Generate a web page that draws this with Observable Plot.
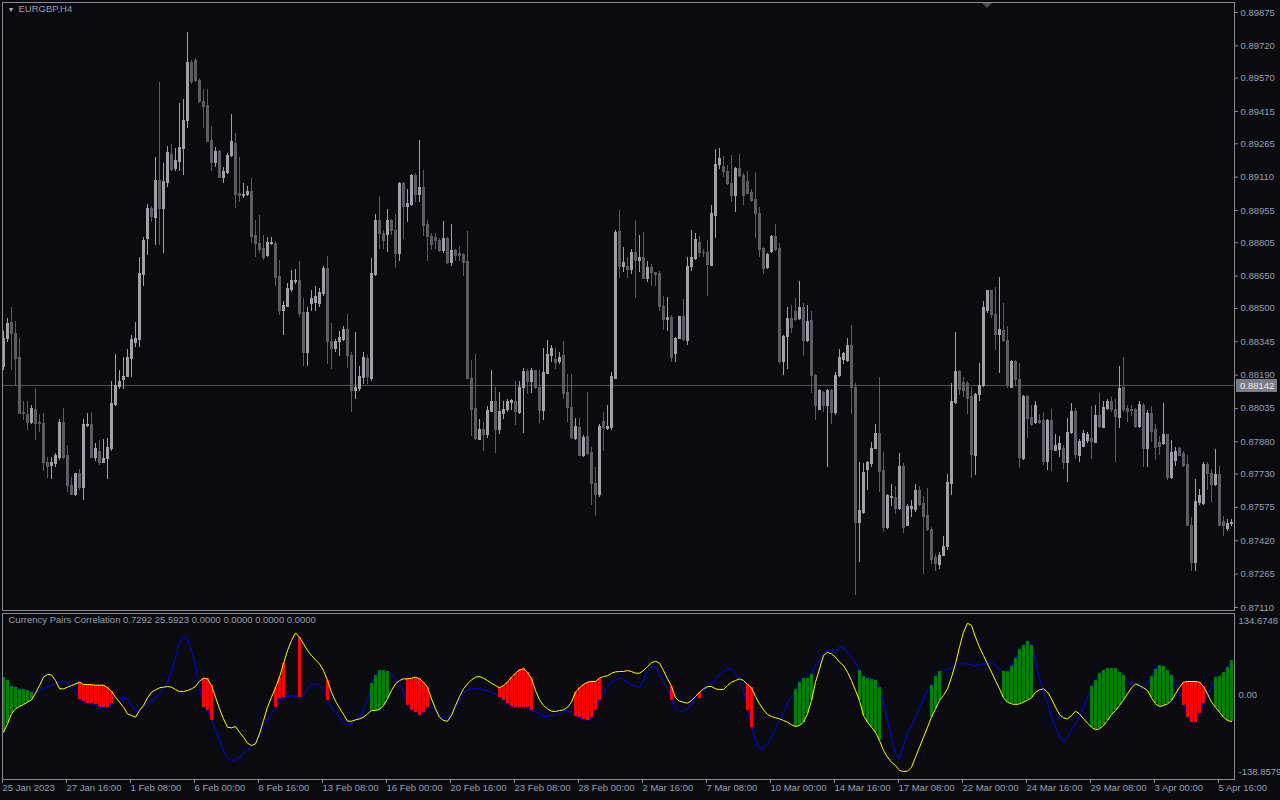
<!DOCTYPE html>
<html><head><meta charset="utf-8">
<script src="https://cdn.jsdelivr.net/npm/d3@7"></script>
<script src="https://cdn.jsdelivr.net/npm/@observablehq/plot@0.6"></script>
<style>
html,body{margin:0;padding:0;background:#0a0a0f;}
#wrap{position:relative;width:1280px;height:800px;overflow:hidden;background:#0a0a0f;font-family:"Liberation Sans",Arial,sans-serif;}
#price{position:absolute;left:0;top:0;}
#ind{position:absolute;left:0;top:610px;}
#shift{position:absolute;left:982px;top:3px;width:0;height:0;border-left:5px solid transparent;border-right:5px solid transparent;border-top:5px solid #4d4d58;}
</style></head><body>
<div id="wrap"><div id="price"></div><div id="ind"></div><div id="shift"></div></div>
<script>
// ---- DATA (prices in points, price × 100000) ----
const symbolTitle = "EURGBP,H4";
const indTitle = "Currency Pairs Correlation 0.7292 25.5923 0.0000 0.0000 0.0000 0.0000";
const hLine = 0.88142;
const priceTicks = [0.89875,0.89720,0.89570,0.89415,0.89265,0.89110,0.88955,0.88805,0.88650,0.88500,0.88345,0.88190,0.88035,0.87880,0.87730,0.87575,0.87420,0.87265,0.87110];
const timeLabels = ["25 Jan 2023","27 Jan 16:00","1 Feb 08:00","6 Feb 00:00","8 Feb 16:00","13 Feb 08:00","16 Feb 00:00","20 Feb 16:00","23 Feb 08:00","28 Feb 00:00","2 Mar 16:00","7 Mar 08:00","10 Mar 00:00","14 Mar 16:00","17 Mar 08:00","22 Mar 00:00","24 Mar 16:00","29 Mar 08:00","3 Apr 00:00","5 Apr 16:00"];
const timeTickBars = [0,16,32,48,64,80,96,112,128,144,160,176,192,208,224,240,256,272,288,304];
const indTicks = [134.6748, 0, -138.8579];
const indTickLabels = ["134.6748","0.00","-138.8579"];

const opens = [
88228,88358,88430,88383,88268,88015,88006,87969,88029,87966,
87964,87783,87767,87776,87807,87969,87812,87675,87631,87729,
87667,87953,87960,87807,87834,87783,87798,87848,88051,88134,
88165,88181,88264,88340,88351,88655,88823,88964,88922,89090,
88964,89081,89213,89148,89181,89239,89369,89638,89651,89557,
89461,89439,89280,89175,89226,89108,89130,89208,89266,89031,
89023,89027,89040,88835,88801,88774,88743,88799,88801,88644,
88488,88506,88584,88622,88626,88477,88293,88521,88524,88521,
88566,88683,88345,88309,88344,88354,88398,88280,88118,88125,
88177,88264,88174,88655,88906,88846,88843,88904,88861,88752,
89078,88973,88980,89114,89027,89058,88888,88834,88828,88814,
88765,88823,88711,88765,88752,88747,88714,88174,88033,87888,
87933,87910,88018,88063,87933,88009,88027,88061,88063,88015,
88132,88204,88156,88210,88132,88024,88195,88280,88259,88253,
88277,88109,88038,87892,87942,87816,87901,87828,87684,87631,
87973,87939,87942,88172,88855,88694,88693,88678,88756,88721,
88732,88638,88687,88665,88660,88506,88445,88454,88286,88358,
88458,88347,88693,88729,88806,88759,88759,88698,88928,89168,
89157,89136,89078,89023,89148,89117,89087,89036,89004,88940,
88774,88687,88761,88834,88778,88250,88365,88452,88485,88452,
88503,88349,88443,88186,88029,88109,88047,88114,88015,88186,
88259,88255,88326,88132,87503,87548,87747,87776,87846,87915,
87743,87478,87617,87620,87568,87761,87490,87568,87563,87653,
87593,87535,87472,87340,87306,87351,87391,87686,88060,88204,
88154,88150,88087,87816,88096,88138,88488,88579,88470,88376,
88394,88349,88132,88253,88168,87801,88090,87991,87969,87975,
87975,87785,87978,87839,87843,87848,87780,87920,88018,87816,
87855,87884,87892,87874,88002,87946,88033,88063,88029,87991,
88132,88033,88027,88027,87948,88047,87848,88011,87933,87874,
87870,87910,87711,87789,87846,87825,87770,87490,87318,87595,
87593,87770,87729,87680,87725,87508,87476,87499];

const highs = [
88394,88452,88506,88439,88358,88069,88069,88051,88130,88006,
88011,87807,87807,87825,87982,88033,87861,87716,87734,87752,
87982,88011,88018,87870,87888,87892,87897,88159,88286,88213,
88271,88307,88376,88434,88738,88828,88982,88973,89199,89551,
89172,89253,89262,89244,89452,89470,89783,89651,89660,89569,
89515,89519,89343,89248,89235,89154,89222,89401,89311,89199,
89081,89067,89103,88910,88931,88837,88828,88828,88810,88723,
88530,88615,88674,88683,88716,88548,88503,88584,88602,88593,
88693,88741,88430,88354,88394,88416,88470,88295,88389,88231,
88295,88280,88734,88937,89018,88864,88958,88915,88937,89085,
89085,89054,89121,89126,89280,89141,88910,88846,88846,88824,
88906,88828,88890,88774,88788,88756,88855,88259,88286,87982,
87969,88042,88213,88132,88109,88069,88078,88078,88159,88159,
88222,88217,88222,88213,88210,88313,88349,88326,88313,88295,
88344,88195,88192,87987,87987,87910,88109,87852,87761,87960,
88015,88051,88204,88864,88955,88781,88738,88774,88910,88837,
88852,88716,88702,88669,88671,88553,88552,88467,88367,88463,
88539,88738,88864,88846,88832,88774,88814,88976,89239,89244,
89208,89163,89211,89157,89213,89126,89136,89054,89132,88967,
88783,88756,88841,88888,88801,88376,88503,88512,88548,88626,
88521,88512,88485,88195,88123,88114,88123,88123,88204,88307,
88295,88358,88421,88150,87783,87780,87789,87879,87960,88181,
87830,87635,87680,87671,87825,87780,87590,87608,87680,87671,
87626,87662,87481,87355,87364,87440,87729,88150,88389,88213,
88181,88159,88132,88105,88246,88530,88584,88584,88597,88644,
88521,88416,88259,88259,88246,88096,88096,88051,88069,88006,
88015,87982,88029,87915,87906,87861,87987,88060,88033,87892,
87933,87924,88042,88051,88105,88069,88078,88087,88078,88228,
88271,88051,88051,88036,88065,88060,88024,88042,87960,87906,
88060,87915,87888,87852,87852,87834,87816,87526,87707,87657,
87783,87783,87752,87843,87765,87535,87517,87521];

const lows = [
88213,88340,88213,88141,88011,87978,87933,87960,87888,87924,
87743,87711,87707,87761,87794,87798,87644,87631,87626,87653,
87608,87946,87801,87789,87770,87780,87707,87834,88042,88123,
88123,88177,88177,88318,88318,88602,88747,88900,88792,88792,
88756,89063,89136,89136,89136,89117,89334,89542,89548,89452,
89334,89271,89136,89154,89103,89081,89121,89199,88964,88994,
89009,89018,88801,88738,88756,88723,88738,88792,88602,88467,
88372,88503,88575,88611,88458,88231,88231,88485,88485,88503,
88557,88240,88217,88295,88277,88344,88222,88018,88078,88114,
88145,88145,88159,88647,88774,88774,88759,88837,88687,88720,
88819,88897,88973,88991,88994,88832,88716,88770,88774,88759,
88756,88705,88693,88720,88716,88647,88168,87906,87888,87884,
87837,87897,88015,87825,87915,87982,88015,88024,87957,88006,
87920,88101,88105,88123,87966,87978,88192,88250,88217,88240,
88078,87969,87892,87888,87812,87807,87816,87584,87535,87620,
87834,87933,87933,88168,88638,88665,88638,88656,88548,88665,
88633,88620,88602,88602,88485,88398,88394,88250,88250,88354,
88344,88326,88671,88723,88738,88738,88553,88693,88824,89145,
89108,89072,88991,88946,89108,88976,89027,88991,88824,88738,
88656,88683,88756,88765,88240,88186,88217,88385,88439,88445,
88277,88340,88105,87978,88024,88015,87761,87960,88000,88177,
88240,88250,88006,87168,87318,87544,87653,87761,87843,87644,
87458,87472,87581,87544,87563,87454,87487,87526,87553,87581,
87264,87463,87309,87277,87288,87346,87373,87631,88054,88096,
88087,88006,87711,87725,88069,88132,88476,88452,88304,88199,
88340,88127,88127,88136,87758,87794,87897,87951,87960,87960,
87770,87747,87743,87834,87807,87752,87693,87915,87798,87783,
87852,87874,87798,87870,87942,87942,88024,88018,87783,87942,
88015,87969,87996,87942,87942,87761,87761,87879,87794,87816,
87861,87698,87707,87765,87812,87761,87487,87277,87277,87584,
87584,87653,87599,87671,87487,87440,87463,87487];

const closes = [
88358,88427,88380,88264,88011,88009,87969,88033,87964,87962,
87780,87765,87780,87812,87969,87807,87675,87635,87729,87667,
87957,87960,87807,87848,87783,87798,87852,88054,88141,88156,
88183,88271,88351,88358,88658,88814,88964,88926,89090,88962,
89085,89220,89145,89184,89244,89369,89638,89551,89557,89457,
89434,89275,89175,89226,89108,89136,89208,89271,89027,89023,
89027,89043,88832,88801,88770,88734,88806,88806,88642,88488,
88512,88590,88626,88629,88474,88293,88477,88542,88553,88571,
88683,88344,88309,88344,88362,88398,88280,88118,88128,88183,
88268,88181,88658,88906,88846,88814,88904,88861,88752,89078,
88973,88987,89114,89027,89058,88882,88834,88796,88814,88765,
88823,88709,88768,88743,88745,88711,88174,88029,87892,87933,
87910,88024,88063,87933,88018,88027,88063,88069,88018,88132,
88204,88159,88210,88128,88024,88199,88282,88309,88246,88271,
88100,88036,87897,87948,87816,87897,87825,87684,87635,87951,
87942,87951,88181,88852,88693,88709,88678,88756,88720,88732,
88638,88687,88665,88655,88506,88445,88454,88271,88358,88458,
88353,88693,88732,88819,88756,88756,88702,88937,89168,89193,
89136,89078,89023,89148,89114,89023,89031,89000,88940,88770,
88683,88747,88834,88770,88250,88365,88452,88407,88448,88503,
88349,88439,88186,88047,88114,88047,88114,88015,88186,88271,
88286,88326,88132,87503,87557,87734,87780,87848,87915,87738,
87478,87626,87622,87568,87761,87478,87575,87575,87653,87588,
87530,87469,87333,87313,87351,87391,87689,88063,88204,88123,
88114,88078,87819,88096,88138,88503,88579,88470,88376,88398,
88349,88138,88253,88168,87807,88090,87987,87960,88047,87966,
87785,87978,87843,87861,87870,87780,87920,88018,87819,87879,
87915,87910,87879,88002,87951,88036,88063,88029,87993,88127,
88027,88020,88024,87951,88051,87848,88011,87924,87852,87855,
87910,87711,87828,87834,87816,87767,87490,87318,87599,87626,
87770,87729,87680,87725,87490,87490,87499,87503];

// Indicator lines (one value per bar)
const yellowLine = [
-66.4,-51.4,-33.4,-24.4,-20.2,-16.6,-12.4,-8.2,3.8,17.6,
32.6,37.4,36.8,26.6,11.6,11.6,14.6,17.6,20.6,23.6,
19.4,19.4,18.8,18.2,18.2,18.2,13.4,7.4,-3.4,-12.4,
-21.4,-33.4,-36.4,-39.4,-27.4,-18.4,-4.6,5.6,9.8,13.4,
14.6,15.8,14.6,10.4,6.8,6.8,8.6,11.6,15.8,25.4,
30.8,29.6,17.6,-3.4,-24.4,-42.4,-57.4,-58.6,-56.2,-66.4,
-75.4,-86.2,-90.4,-87.4,-69.4,-45.4,-21.4,-3.4,13.4,32.6,
56.6,80.6,98.6,112.4,104.6,92.6,80.6,71.6,63.8,56.6,
44.6,26.6,5.6,-10.6,-22.6,-34.6,-46.6,-46.6,-44.2,-42.4,
-39.4,-33.4,-27.4,-27.4,-25,-18.4,-6.4,8.6,20.6,26.6,
29.6,29.6,30.8,32.6,29.6,23.6,14.6,-6.4,-24.4,-39.4,
-45.4,-46.6,-36.4,-18.4,-2.2,11.6,20.6,27.8,32.6,33.8,
30.8,26.6,21.8,17.6,13.4,17.6,23.6,32.6,39.8,45.8,
47.6,41.6,29.6,8.6,-8.2,-18.4,-24.4,-28.6,-29.2,-27.4,
-26.2,-21.4,-12.4,5.6,13.4,19.4,23.6,24.8,24.8,30.8,
33.8,35,39.8,42.2,42.8,42.8,44.6,42.8,39.8,39.8,
44.6,51.8,58.4,61.4,57.8,44.6,29.6,15.8,-4.6,-10.6,
-12.4,-14.2,-9.4,-2.2,5.6,11.6,15.8,15.8,11.6,10.4,
10.4,17.6,23.6,26.6,29.6,26.6,19.4,13.4,-2.2,-15.4,
-26.2,-34.6,-38.2,-40.6,-42.4,-45.4,-48.4,-53.2,-56.2,-54.4,
-48.4,-33.4,-9.4,23.6,47.6,71.6,77.6,74.6,68.6,59.6,
53.6,41.6,26.6,8.6,-9.4,-36.4,-48.4,-57.4,-66.4,-81.4,
-99.4,-111.4,-120.4,-126.4,-135.4,-137.2,-136.6,-129.4,-111.4,-93.4,
-75.4,-57.4,-39.4,-24.4,-9.4,-0.4,11.6,32.6,56.6,86.6,
113.6,129.8,125.6,104.6,86.6,71.6,56.6,41.6,26.6,11.6,
-4.6,-12.4,-15.4,-16.6,-15.4,-12.4,-8.2,-4.6,5.6,9.8,
11.6,5.6,-6.4,-21.4,-34.6,-40.6,-42.4,-36.4,-28.6,-33.4,
-42.4,-50.2,-57.4,-62.2,-60.4,-54.4,-45.4,-34.6,-27.4,-18.4,
-8.2,2.6,13.4,20.6,17.6,13.4,8.6,-4.6,-15.4,-20.2,
-18.4,-15.4,-9.4,2.6,14.6,23.6,24.8,24.8,24.8,23.6,
15.8,2.6,-12.4,-21.4,-30.4,-39.4,-45.4,-47.2];

const blueLine = [
32.6,26.6,15.8,13.4,11,9.8,8.6,5.6,5.6,8.6,
11.6,14.6,17.6,20.6,23.6,24.8,21.8,15.8,5.6,-8.2,
-10.6,-14.2,-15.4,-17.2,-20.2,-21.4,-22.6,-15.4,-3.4,-4.6,
-6.4,-6.4,-18.4,-27.4,-26.2,-21.4,-15.4,-10.6,-4.6,2.6,
11.6,23.6,41.6,68.6,95.6,105.8,101.6,80.6,53.6,14.6,
-21.4,-27.4,-45.4,-63.4,-81.4,-99.4,-114.4,-117.4,-116.2,-111.4,
-105.4,-98.2,-90.4,-84.4,-72.4,-54.4,-42.4,-33.4,-22.6,-6.4,
-4.6,-2.2,-1,-1,-4.6,-0.4,11.6,19.4,20.6,17.6,
8.6,-9.4,-21.4,-30.4,-39.4,-48.4,-52.6,-51.4,-44.2,-39.4,
-27.4,-9.4,20.6,35.6,44.6,44.6,42.8,38.6,29.6,20.6,
5.6,-18.4,-27.4,-30.4,-36.4,-30.4,-21.4,-20.2,-27.4,-36.4,
-40.6,-39.4,-33.4,-24.4,-9.4,3.8,9.8,11.6,11.6,11.6,
9.8,7.4,5.6,2.6,-3.4,-9.4,-15.4,-20.2,-21.4,-21.4,
-21.4,-22.6,-27.4,-30.4,-32.2,-38.2,-38.2,-36.4,-35.2,-32.2,
-27.4,-27.4,-30.4,-38.2,-40.6,-43.6,-45.4,-40.6,-27.4,-9.4,
3.8,15.8,23.6,27.8,31.4,27.8,23.6,19.4,15.8,14.6,
26.6,44.6,51.8,50.6,38.6,23.6,11.6,-9.4,-22.6,-28.6,
-28.6,-24.4,-15.4,-3.4,-5.2,8.6,13.4,20.6,29.6,37.4,
42.8,47,47.6,39.8,26.6,8.6,-27.4,-57.4,-81.4,-96.4,
-93.4,-87.4,-75.4,-60.4,-45.4,-30.4,-15.4,-3.4,9.8,23.6,
29.6,29.6,37.4,53.6,62.6,74.6,81.8,80.6,77.6,87.8,
86.6,75.8,68.6,59.6,44.6,33.8,30.8,28.4,26.6,14.6,
-12.4,-45.4,-78.4,-105.4,-114.4,-90.4,-69.4,-54.4,-39.4,-24.4,
-6.4,8.6,17.6,33.8,42.8,44.6,45.8,49.4,53.6,56.6,
56.6,56.6,55.4,51.8,55.4,56.6,56.6,59.6,53.6,44.6,
42.8,43.4,51.8,65.6,81.8,89.6,97.4,89.6,62.6,29.6,
5.6,-15.4,-39.4,-57.4,-72.4,-84.4,-75.4,-62.2,-51.4,-39.4,
-21.4,-4.6,15.8,26.6,38.6,44.6,47.6,48.8,47.6,41.6,
35.6,26.6,21.8,19.4,14.6,11.6,23.6,33.8,45.8,53.6,
51.8,44.6,35.6,20.6,5.6,-18.4,-39.4,-48.4,-48.4,-33.4,
-15.4,2.6,14.6,32.6,33.8,41.6,50.6,62.6];

// Bars where the histogram between the two lines is drawn
const histBars = [0,1,2,3,4,5,6,7, 19,20,21,22,23,24,25,26,27, 50,51,52, 68,69,70, 74, 81,
 92,93,94,95,96, 101,102,103,104,105,106, 124,125,126,127,128,129,130,131,132,
 143,144,145,146,147,148,149, 167, 174, 186,187, 198,199,200,201,202,
 214,215,216,217,218,219, 232,233,234, 250,251,252,253,254,255,256,257,
 272,273,274,275,276,277,278,279,280, 287,288,289,290,291,292,
 295,296,297,298,299,300, 303,304,305,306,307];

// ---- STYLE ----
const TXT = "#96a0b4", FRAME = "#8a8a96";
const BULL = "#a0a0ab", BEAR = "#5c5c64";
const FONT = "font-family:'Liberation Sans',Arial,sans-serif;font-size:9.5px;";
const X_DOMAIN = [-0.25, 307.75];

const candles = opens.map((o, i) => ({i, open: o / 1e5, high: highs[i] / 1e5, low: lows[i] / 1e5, close: closes[i] / 1e5}));
const candleColor = d => d.close >= d.open ? BULL : BEAR;

const priceChart = Plot.plot({
  width: 1280, height: 611,
  marginLeft: 2, marginRight: 46, marginTop: 2, marginBottom: 1,
  style: "background:transparent;color:" + TXT + ";overflow:visible;" + FONT,
  x: {domain: X_DOMAIN, axis: null},
  y: {domain: [0.8709606, 0.8992147], axis: null},
  color: {type: "identity"},
  marks: [
    Plot.ruleY([hLine], {stroke: "#55555f"}),
    Plot.ruleX(candles, {x: "i", y1: "low", y2: "high", stroke: candleColor, shapeRendering: "crispEdges"}),
    Plot.rect(candles, {x1: d => d.i - 0.375, x2: d => d.i + 0.375, y1: "open", y2: "close", fill: candleColor, insetTop: -0.5, insetBottom: -0.5, shapeRendering: "crispEdges"}),
    Plot.frame({stroke: FRAME}),
    Plot.axisY(priceTicks, {anchor: "right", label: null, tickSize: 3, tickPadding: 3, tickFormat: d => d.toFixed(5), stroke: FRAME, fill: TXT}),
    Plot.text(["\u25BC"], {text: d => d, frameAnchor: "top-left", dx: 5, dy: 5, fontSize: 7, fill: "#a8b0c0"}),
    Plot.text([symbolTitle], {text: d => d, frameAnchor: "top-left", dx: 16, dy: 3, fill: TXT})
  ]
});
document.getElementById("price").appendChild(priceChart);

// price label box for the horizontal line, positioned through the y scale
{
  const yy = Math.round(priceChart.scale("y").apply(hLine));
  const svg = d3.select(priceChart);
  svg.append("rect").attr("x", 1236).attr("y", yy - 6).attr("width", 41).attr("height", 13).attr("fill", "#7c7c86");
  svg.append("text").attr("x", 1240).attr("y", yy + 0.5).attr("dy", "0.32em")
    .attr("text-anchor", "start").attr("fill", "#ececf2").style("font-size", "9.5px").text(hLine.toFixed(5));
}

const ind = yellowLine.map((v, i) => ({i, yellow: v, blue: blueLine[i]}));
const bars = histBars.map(i => ind[i]);

const indChart = Plot.plot({
  width: 1280, height: 190,
  marginLeft: 2, marginRight: 46, marginTop: 3, marginBottom: 21,
  style: "background:transparent;color:" + TXT + ";overflow:visible;" + FONT,
  x: {domain: X_DOMAIN, axis: null},
  y: {domain: [-151.56, 147.24], axis: null},
  color: {type: "identity"},
  marks: [
    Plot.lineY(ind, {x: "i", y: "blue", stroke: "#0000ff", strokeWidth: 1}),
    Plot.ruleX(bars, {x: "i", y1: "yellow", y2: "blue", stroke: d => d.blue > d.yellow ? "#008000" : "#ff0000", strokeWidth: 3, shapeRendering: "crispEdges"}),
    Plot.lineY(ind, {x: "i", y: "yellow", stroke: "#ffff00", strokeWidth: 1}),
    Plot.frame({stroke: FRAME}),
    Plot.axisX(timeTickBars, {anchor: "bottom", label: null, tickSize: 4, tickPadding: 1, textAnchor: "start", dx: -1,
      tickFormat: d => timeLabels[timeTickBars.indexOf(d)], stroke: FRAME, fill: TXT}),
    Plot.axisY(indTicks, {anchor: "right", label: null, tickSize: 0, tickPadding: 4,
      tickFormat: d => indTickLabels[indTicks.indexOf(d)], fill: TXT}),
    Plot.text([indTitle], {text: d => d, frameAnchor: "top-left", dx: 6, dy: 3, fill: "#9aa0ad"})
  ]
});
document.getElementById("ind").appendChild(indChart);
</script>
</body></html>
